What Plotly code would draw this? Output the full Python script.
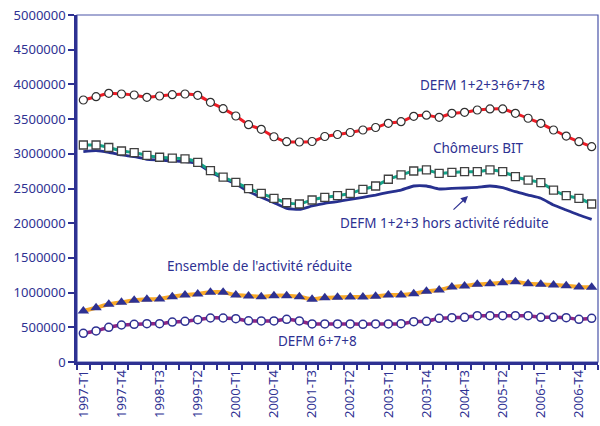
import plotly.graph_objects as go

quarters = [f"{y}-T{q}" for y in range(1997, 2008) for q in range(1, 5)][:41]
tick_labels = [q if i % 3 == 0 else "" for i, q in enumerate(quarters)]

defm_all = [3775, 3823, 3872, 3862, 3847, 3814, 3833, 3852, 3862, 3843,
            3742, 3650, 3545, 3419, 3353, 3246, 3174, 3170, 3177, 3249,
            3278, 3307, 3343, 3379, 3439, 3463, 3540, 3556, 3526, 3583,
            3598, 3631, 3646, 3646, 3583, 3512, 3439, 3343, 3256, 3174, 3102]
chomeurs_bit = [3127, 3127, 3091, 3040, 3018, 2976, 2950, 2937, 2928, 2877,
                2757, 2663, 2589, 2497, 2431, 2359, 2295, 2277, 2334, 2373,
                2396, 2431, 2488, 2536, 2633, 2695, 2752, 2767, 2719, 2733,
                2742, 2742, 2767, 2742, 2670, 2622, 2584, 2478, 2396, 2359, 2277]
defm_123_hors = [3030, 3045, 3021, 2983, 2958, 2921, 2911, 2896, 2886, 2853,
                 2738, 2647, 2565, 2455, 2373, 2295, 2215, 2200, 2248, 2287,
                 2310, 2344, 2373, 2406, 2445, 2478, 2536, 2536, 2493, 2503,
                 2507, 2517, 2536, 2512, 2454, 2406, 2359, 2262, 2190, 2118, 2056]
activite_reduite = [735, 782, 831, 860, 889, 903, 908, 941, 965, 980,
                    1004, 1004, 965, 951, 941, 955, 955, 941, 903, 927,
                    932, 937, 937, 946, 965, 965, 984, 1018, 1037, 1081,
                    1095, 1119, 1128, 1143, 1157, 1128, 1119, 1110, 1099, 1081, 1076]
defm_678 = [413, 447, 500, 533, 543, 552, 552, 576, 586, 610,
            634, 634, 624, 593, 591, 591, 615, 591, 548, 548,
            548, 548, 543, 548, 548, 552, 581, 586, 629, 639,
            644, 667, 667, 667, 667, 667, 644, 644, 639, 615, 629]

NAVY = "#2E3192"
FONT = "Noto Sans"

def k(v):
    return [x * 1000 for x in v]

fig = go.Figure()
fig.add_trace(go.Scatter(x=quarters, y=k(defm_123_hors), mode="lines",
                         line=dict(color="#27308f", width=2.8, shape="spline", smoothing=0.5)))
fig.add_trace(go.Scatter(x=quarters, y=k(chomeurs_bit), mode="lines+markers",
                         line=dict(color="#12a58a", width=3, shape="spline", smoothing=0.5),
                         marker=dict(symbol="square", size=8, color="white",
                                     line=dict(color="#404040", width=1.3))))
fig.add_trace(go.Scatter(x=quarters, y=k(defm_all), mode="lines+markers",
                         line=dict(color="#ee1c25", width=3, shape="spline", smoothing=0.5),
                         marker=dict(symbol="circle", size=8, color="white",
                                     line=dict(color="#303030", width=1.2))))
fig.add_trace(go.Scatter(x=quarters, y=k(activite_reduite), mode="lines+markers",
                         line=dict(color="#f8a928", width=4, shape="spline", smoothing=0.5),
                         marker=dict(symbol="triangle-up", size=10, color=NAVY,
                                     line=dict(color=NAVY, width=0))))
fig.add_trace(go.Scatter(x=quarters, y=k(defm_678), mode="lines+markers",
                         line=dict(color="#8e2585", width=3.5, shape="spline", smoothing=0.5),
                         marker=dict(symbol="circle", size=8, color="white",
                                     line=dict(color=NAVY, width=1.5))))

fig.update_layout(
    width=600, height=426,
    margin=dict(l=77, r=2, t=15, b=64, autoexpand=False),
    paper_bgcolor="white", plot_bgcolor="white",
    showlegend=False,
    font=dict(family=FONT, color=NAVY, size=13),
)
fig.update_xaxes(
    type="category", tickmode="array", tickvals=quarters, ticktext=tick_labels,
    tickson="boundaries", ticks="outside", ticklen=5, tickwidth=1.5, tickcolor=NAVY,
    tickangle=-90, tickfont=dict(family=FONT, size=13, color=NAVY),
    showline=True, linecolor=NAVY, linewidth=2.5, showgrid=False, zeroline=False,
    range=[-0.5, 40.5], automargin=False, ticklabeloverflow="allow",
)
fig.update_yaxes(
    range=[0, 5000000], dtick=500000, tickformat="d",
    ticks="outside", ticklen=6, tickwidth=1.5, tickcolor=NAVY,
    tickfont=dict(family=FONT, size=13, color=NAVY),
    showline=True, linecolor=NAVY, linewidth=2.5, showgrid=False, zeroline=False,
    automargin=False, ticklabeloverflow="allow",
)
fig.add_shape(type="rect", xref="paper", yref="paper", x0=0, x1=1, y0=0, y1=1,
              line=dict(color="#4a54a8", width=1.2), layer="below")

ann_font = dict(family=FONT, size=13.5, color=NAVY)

def paper(px, py):
    return (px - 77) / (598 - 77), (362 - py) / (362 - 15)

for txt, px, py in [("DEFM 1+2+3+6+7+8", 482, 85), ("Chômeurs BIT", 478, 148),
                    ("DEFM 1+2+3 hors activité réduite", 444, 223),
                    ("Ensemble de l'activité réduite", 259, 266),
                    ("DEFM 6+7+8", 317, 341)]:
    xp, yp = paper(px, py)
    fig.add_annotation(x=xp, y=yp, xref="paper", yref="paper", text=txt,
                       xanchor="center", yanchor="middle",
                       showarrow=False, font=ann_font)

hx, hy = paper(468, 196)
fig.add_annotation(x=hx, y=hy, ax=-16, ay=15, xref="paper", yref="paper",
                   axref="pixel", ayref="pixel", text="", showarrow=True,
                   arrowhead=2, arrowsize=1.2, arrowwidth=1.2, arrowcolor=NAVY)

fig.write_html("out.html",
               config={"displayModeBar": False},
               post_script="document.body.style.margin='0px';"
                           "document.body.style.overflow='hidden';")
